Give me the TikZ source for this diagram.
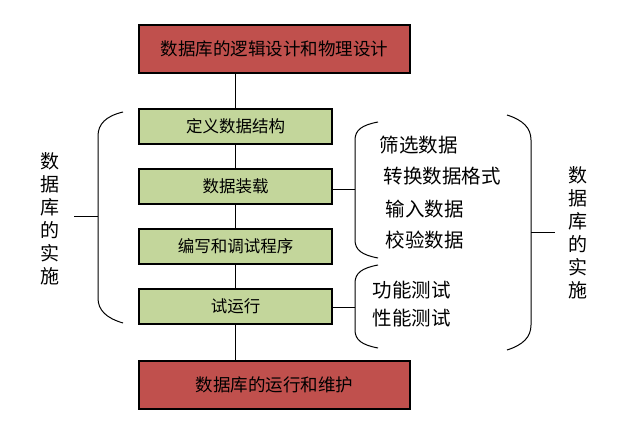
\documentclass[tikz,border=0pt]{standalone}
\usepackage{fontspec}
\newfontfamily\cjk{Noto Sans CJK SC}
\definecolor{boxred}{RGB}{192,80,77}
\definecolor{boxgreen}{RGB}{195,214,155}
\tikzset{every picture/.style={line width=1pt}}
\tikzset{
	phasebox/.style={draw=black, fill=boxred, line width=1.2pt, minimum width=271pt, minimum height=48pt, inner sep=0pt, font=\cjk\fontsize{17.5}{20}\selectfont},
	stepbox/.style={draw=black, fill=boxgreen, line width=1.2pt, minimum width=193pt, minimum height=35pt, inner sep=0pt, font=\cjk\fontsize{16.5}{19}\selectfont},
	itemtext/.style={anchor=west, inner sep=0pt, font=\cjk\fontsize{19.5}{22}\selectfont},
	sidetext/.style={align=center, inner sep=0pt, font=\cjk\fontsize{19}{23}\selectfont}}

\begin{document}
\begin{tikzpicture}[x=1pt,y=1pt,yscale=-1,xscale=1]
	\useasboundingbox (0,0) rectangle (627,433);

	%Shape: Rectangle [top phase]
	\node [phasebox] (design) at (274.5,49) {数据库的逻辑设计和物理设计};
	%Shape: Rectangle [steps]
	\node [stepbox] (define) at (235.5,126.5) {定义数据结构};
	\node [stepbox] (load) at (235.5,186.5) {数据装载};
	\node [stepbox] (program) at (235.5,246.5) {编写和调试程序};
	\node [stepbox] (trial) at (235.5,306.5) {试运行};
	%Shape: Rectangle [bottom phase]
	\node [phasebox] (maintain) at (274.5,385) {数据库的运行和维护};

	% Straight Lines
	\draw (define.north |- design.south) -- (define.north);
	\draw (define) -- (load);
	\draw (load) -- (program);
	\draw (program) -- (trial);
	\draw (trial.south) -- (trial.south |- maintain.north);

	% brace tips
	\coordinate (leftbrace) at (98,217);
	\coordinate (loadbrace) at (355,190);
	\coordinate (trialbrace) at (355,307);
	\coordinate (rightbrace) at (531,232);

	%Curve Lines [left brace]
	\draw (123,112) .. controls (106,116) and (98,124) .. (98,136) -- (98,298) .. controls (98,310) and (106,318) .. (123,323);
	\draw (leftbrace) -- ++(-24,0);
	%Curve Lines [load brace]
	\draw (378,122) .. controls (362,125) and (355,130) .. (355,140) -- (355,240) .. controls (355,250) and (362,255) .. (378,258);
	\draw (loadbrace -| load.east) -- (loadbrace);
	%Curve Lines [trial brace]
	\draw (378,265) .. controls (362,268) and (355,273) .. (355,283) -- (355,330) .. controls (355,340) and (362,345) .. (378,348);
	\draw (trialbrace -| trial.east) -- (trialbrace);
	%Curve Lines [right brace]
	\draw (507,115) .. controls (523,120) and (531,128) .. (531,140) -- (531,325) .. controls (531,337) and (523,345) .. (507,350);
	\draw (rightbrace) -- ++(24,0);

	% Text Node
	\node [sidetext] (leftlabel) at (50,219) {数\\据\\库\\的\\实\\施};
	% Text Node
	\node [sidetext] (rightlabel) at (577.5,233) {数\\据\\库\\的\\实\\施};
	% Text Node
	\node [itemtext] (filter) at (379,145) {筛选数据};
	\node [itemtext] (convert) at (383,176) {转换数据格式};
	\node [itemtext] (input) at (385,209) {输入数据};
	\node [itemtext] (check) at (385,240) {校验数据};
	\node [itemtext] (functest) at (372,290) {功能测试};
	\node [itemtext] (perftest) at (372,318) {性能测试};

\end{tikzpicture}
\end{document}
